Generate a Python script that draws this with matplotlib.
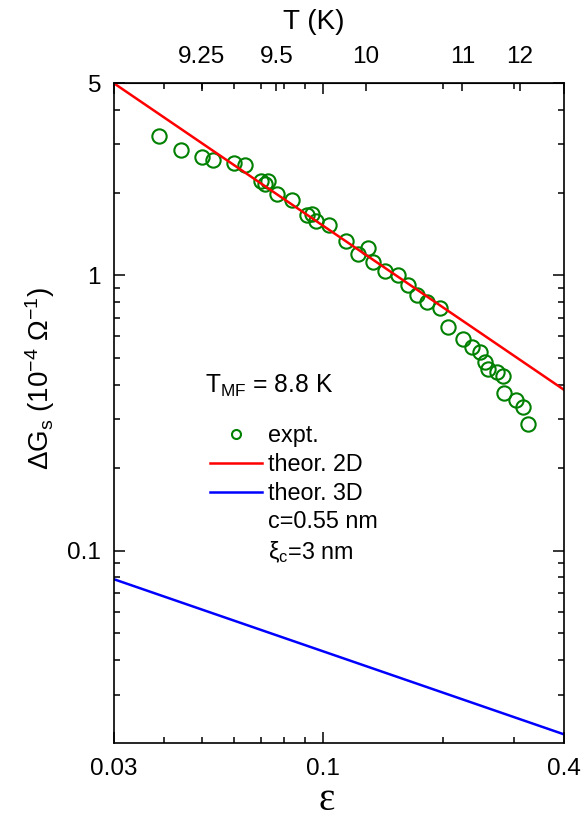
import numpy as np
import matplotlib
matplotlib.use('Agg')
import matplotlib.pyplot as plt
from matplotlib.lines import Line2D
from matplotlib.ticker import FixedLocator, NullFormatter, NullLocator

plt.rcParams['font.family'] = ['Liberation Sans', 'DejaVu Sans']
plt.rcParams['mathtext.default'] = 'regular'

T_MF = 8.8

# experimental points (reduced temperature, excess conductance)
eps_expt = [0.0390, 0.0443, 0.0498, 0.0533, 0.0600, 0.0639, 0.0700, 0.0717, 0.0731,
            0.0770, 0.0836, 0.0911, 0.0938, 0.0960, 0.1036, 0.1145, 0.1225, 0.1299,
            0.1337, 0.1430, 0.1543, 0.1635, 0.1721, 0.1823, 0.1962, 0.2058, 0.2242,
            0.2353, 0.2468, 0.2540, 0.2589, 0.2717, 0.2823, 0.2839, 0.3031, 0.3168,
            0.3259]
dg_expt = [3.22, 2.85, 2.70, 2.63, 2.57, 2.51, 2.21, 2.15, 2.21,
           1.98, 1.88, 1.66, 1.67, 1.58, 1.53, 1.33, 1.20, 1.26,
           1.12, 1.04, 1.007, 0.924, 0.852, 0.803, 0.760, 0.648, 0.588,
           0.548, 0.528, 0.486, 0.457, 0.447, 0.430, 0.373, 0.353, 0.332,
           0.288]

# theory lines
eps_2d = [0.03, 0.4]
dg_2d = [5.0, 0.384]
eps_3d = [0.03, 0.4]
dg_3d = [0.0788, 0.0215]

T_ticks = [9.25, 9.5, 10, 11, 12]
T_labels = ['9.25', '9.5', '10', '11', '12']

fig = plt.figure(figsize=(5.81, 8.26), dpi=100)
ax = fig.add_axes([0.1954, 0.1005, 0.7753, 0.799])

ax.plot(eps_expt, dg_expt, 'o', mfc='none', mec='#008000', mew=1.5, ms=10.3, label='expt.')
ax.plot(eps_2d, dg_2d, color='#ff0000', lw=1.8, label='theor. 2D')
ax.plot(eps_3d, dg_3d, color='#0000ff', lw=1.8, label='theor. 3D')

ax.set_xscale('log')
ax.set_yscale('log')
ax.set_xlim(0.03, 0.4)
ax.set_ylim(0.02, 5)

ax.xaxis.set_major_locator(FixedLocator([0.03, 0.1, 0.4]))
ax.set_xticklabels(['0.03', '0.1', '0.4'])
ax.xaxis.set_minor_locator(FixedLocator([0.04, 0.05, 0.06, 0.07, 0.08, 0.09, 0.2, 0.3]))
ax.xaxis.set_minor_formatter(NullFormatter())

ax.yaxis.set_major_locator(FixedLocator([0.1, 1, 5]))
ax.set_yticklabels(['0.1', '1', '5'])
ax.yaxis.set_minor_locator(FixedLocator([0.03, 0.04, 0.05, 0.06, 0.07, 0.08, 0.09,
                                         0.2, 0.3, 0.4, 0.5, 0.6, 0.7, 0.8, 0.9,
                                         2, 3, 4]))
ax.yaxis.set_minor_formatter(NullFormatter())

ax.tick_params(which='both', direction='in', top=True, right=True, labelsize=17.5, width=1.1)
ax.tick_params(which='major', length=8)
ax.tick_params(which='minor', length=4)
ax.tick_params(axis='x', pad=11)
ax.tick_params(axis='y', pad=9)
for s in ax.spines.values():
    s.set_linewidth(1.2)

ax.set_xlabel('ε', family=['Liberation Serif'], fontsize=28, labelpad=1)
ax.xaxis.label.set_x(0.474)
ax.set_ylabel(r'$\Delta$G$_s$ (10$^{-4}$ $\Omega^{-1}$)', fontsize=20, labelpad=7)
ax.yaxis.label.set_y(0.553)

# top temperature axis
secax = ax.secondary_xaxis('top', functions=(lambda e: T_MF * np.exp(e),
                                              lambda t: np.log(np.clip(t, 1e-9, None) / T_MF)))
secax.xaxis.set_major_locator(FixedLocator(T_ticks))
secax.set_xticklabels(T_labels)
secax.xaxis.set_minor_locator(NullLocator())
secax.tick_params(direction='in', length=6, width=1.1, labelsize=17.5, pad=11)
secax.set_xlabel('T (K)', fontsize=20, labelpad=12)
secax.xaxis.label.set_x(0.445)

ax.text(0.203, 0.530, r'T$_{MF}$ = 8.8 K', transform=ax.transAxes, fontsize=17.7,
        va='baseline')

blank = Line2D([], [], linestyle='none')
h, l = ax.get_legend_handles_labels()
leg = ax.legend(h + [blank, blank], l + ['c=0.55 nm', r'ξ$_c$=3 nm'],
                loc='upper left', bbox_to_anchor=(0.214, 0.4826), frameon=False,
                fontsize=16.8, handlelength=2.23, handletextpad=0.26, labelspacing=0.24,
                borderpad=0, borderaxespad=0, markerscale=0.63)

fig.savefig('out.png', dpi=100)
